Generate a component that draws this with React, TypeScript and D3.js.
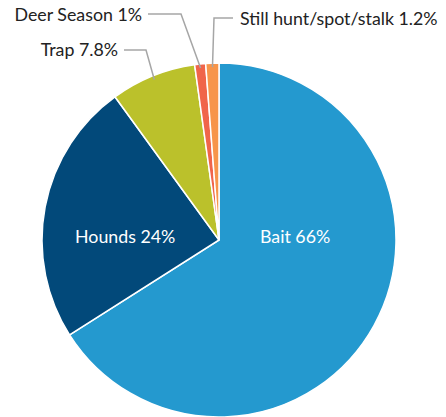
import React from "react";
import * as d3 from "d3";

const categories = ["Bait", "Hounds", "Trap", "Deer Season", "Still hunt/spot/stalk"];
const values = [66, 24, 7.8, 1, 1.2];
const valueLabels = ["66%", "24%", "7.8%", "1%", "1.2%"];
const colors = ["#2499cf", "#02497a", "#bbc12b", "#f0654a", "#f7954a"];

export default function App() {
  const W = 446, H = 417;
  const cx = 219, cy = 240, r = 177;
  const data = categories.map((c, i) => ({ c, v: values[i], l: valueLabels[i], col: colors[i] }));
  const pie = d3.pie<any>().sort(null).value((d: any) => d.v);
  const arcs = pie(data);
  const arc = d3.arc<any>().innerRadius(0).outerRadius(r);
  const font = "Lato, 'Open Sans', sans-serif";
  const fs = 17.8;

  const pt = (a: number, rr: number) => [Math.sin(a) * rr, -Math.cos(a) * rr];

  const outside: Record<string, { elbow: [number, number]; end: [number, number]; tx: number; ty: number; anchor: string }> = {
    "Trap": { elbow: [146, 50], end: [124, 50], tx: 118, ty: 50, anchor: "end" },
    "Deer Season": { elbow: [181, 14], end: [148, 14], tx: 142, ty: 15, anchor: "end" },
    "Still hunt/spot/stalk": { elbow: [214, 18], end: [233, 18], tx: 240, ty: 19, anchor: "start" },
  };
  const inside: Record<string, [number, number]> = {
    "Bait": [0.43, -0.02],
    "Hounds": [-0.53, -0.02],
  };

  return (
    <svg width={W} height={H} style={{ position: "absolute", left: 0, top: 0 }}>
      <g transform={`translate(${cx},${cy})`}>
        {arcs.map((a, i) => (
          <path key={i} d={arc(a) as string} fill={a.data.col} stroke="#fff" strokeWidth={1.5} />
        ))}
      </g>
      {arcs.map((a, i) => {
        const o = outside[a.data.c];
        if (!o) return null;
        const mid = (a.startAngle + a.endAngle) / 2;
        const [px, py] = pt(mid, r - 4);
        return (
          <g key={"l" + i}>
            <polyline
              points={`${cx + px},${cy + py} ${o.elbow[0]},${o.elbow[1]} ${o.end[0]},${o.end[1]}`}
              fill="none"
              stroke="#a6a6a6"
              strokeWidth={1.5}
            />
            <text x={o.tx} y={o.ty} dy="0.35em" textAnchor={o.anchor} fontFamily={font} fontSize={fs} fill="#222">
              {a.data.c + " " + a.data.l}
            </text>
          </g>
        );
      })}
      {arcs.map((a, i) => {
        const p = inside[a.data.c];
        if (!p) return null;
        return (
          <text key={"t" + i} x={cx + p[0] * r} y={cy + p[1] * r} dy="0.35em" textAnchor="middle" fontFamily={font} fontSize={fs} fill="#fff">
            {a.data.c + " " + a.data.l}
          </text>
        );
      })}
    </svg>
  );
}
